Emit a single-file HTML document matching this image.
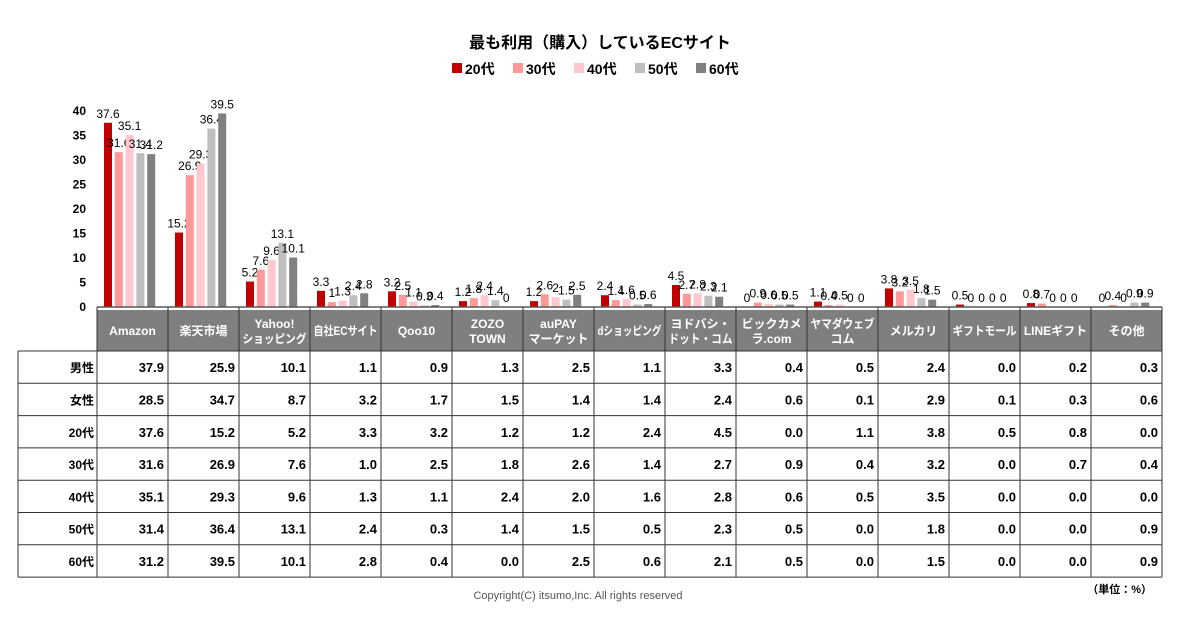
<!DOCTYPE html>
<html><head><meta charset="utf-8">
<style>
body{margin:0;background:#fff;font-family:"Liberation Sans","Noto Sans CJK JP",sans-serif;}
#wrap{position:relative;width:1200px;height:630px;overflow:hidden;}
svg text{font-family:"Liberation Sans","Noto Sans CJK JP",sans-serif;}
</style></head>
<body>
<div id="wrap">
<svg id="svg" width="1200" height="630" xmlns="http://www.w3.org/2000/svg">
<text x="600" y="48" text-anchor="middle" font-size="16" font-weight="bold" fill="#000">最も利用（購入）しているECサイト</text>
<g id="legend"></g>
<g id="yaxis"></g>
<g id="bars"></g>
<g id="table"></g>
<text x="578" y="599" text-anchor="middle" font-size="11" fill="#555">Copyright(C) itsumo,Inc. All rights reserved</text>
<text x="1152" y="593" text-anchor="end" font-size="11" font-weight="bold" fill="#000">（単位：%）</text>
</svg>
</div>
<script>
const categories=["Amazon","楽天市場","Yahoo!|ショッピング","自社ECサイト","Qoo10","ZOZO|TOWN","auPAY|マーケット","dショッピング","ヨドバシ・|ドット・コム","ビックカメ|ラ.com","ヤマダウェブ|コム","メルカリ","ギフトモール","LINEギフト","その他"];
const seriesNames=["20代","30代","40代","50代","60代"];
const seriesColors=["#c00000","#ff9999","#ffc7ce","#bfbfbf","#808080"];
const rowLabels=["男性","女性","20代","30代","40代","50代","60代"];
const rowMale=[37.9,25.9,10.1,1.1,0.9,1.3,2.5,1.1,3.3,0.4,0.5,2.4,0.0,0.2,0.3];
const rowFemale=[28.5,34.7,8.7,3.2,1.7,1.5,1.4,1.4,2.4,0.6,0.1,2.9,0.1,0.3,0.6];
const s20=[37.6,15.2,5.2,3.3,3.2,1.2,1.2,2.4,4.5,0.0,1.1,3.8,0.5,0.8,0.0];
const s30=[31.6,26.9,7.6,1.0,2.5,1.8,2.6,1.4,2.7,0.9,0.4,3.2,0.0,0.7,0.4];
const s40=[35.1,29.3,9.6,1.3,1.1,2.4,2.0,1.6,2.8,0.6,0.5,3.5,0.0,0.0,0.0];
const s50=[31.4,36.4,13.1,2.4,0.3,1.4,1.5,0.5,2.3,0.5,0.0,1.8,0.0,0.0,0.9];
const s60=[31.2,39.5,10.1,2.8,0.4,0.0,2.5,0.6,2.1,0.5,0.0,1.5,0.0,0.0,0.9];
const yTicks=[0,5,10,15,20,25,30,35,40];

const NS="http://www.w3.org/2000/svg";
const series=[s20,s30,s40,s50,s60];
const rows=[rowMale,rowFemale,s20,s30,s40,s50,s60];
const plotLeft=97,colW=71,y0=307,yTop=111,yMax=40;
const y=v=>y0-(v/yMax)*(y0-yTop);
const colX=i=>plotLeft+i*colW;
function mk(tag,attrs,parent,txt){const e=document.createElementNS(NS,tag);for(const k in attrs)e.setAttribute(k,attrs[k]);if(txt!==undefined)e.textContent=txt;parent.appendChild(e);return e;}
const fmt=v=>v===0?"0":String(v);

const lg=document.getElementById('legend');
let lx=452;
seriesNames.forEach((n,i)=>{
  const r=mk('rect',{x:lx,y:63,width:10,height:10,fill:seriesColors[i]},lg);
  
  
  const t=mk('text',{x:lx+13,y:74,'font-size':14,'font-weight':'bold'},lg,n);
  
  
  lx+=61;
});
const ya=document.getElementById('yaxis');
yTicks.forEach(v=>{
  const t=mk('text',{x:86,y:y(v)+4,'text-anchor':'end','font-size':12,'font-weight':'bold'},ya,v);
  
  
});
const bg=document.getElementById('bars');
categories.forEach((c,ci)=>{
  series.forEach((s,si)=>{
    const v=s[ci];
    const bx=colX(ci)+7+si*10.8;
    const r=mk('rect',{x:bx,y:y(v),width:8,height:y0-y(v),fill:seriesColors[si]},bg);
    
    
    const t=mk('text',{x:bx+4,y:y(v)-5,'text-anchor':'middle','font-size':12,fill:'#000'},bg,fmt(v));
    
    
  });
});
const tb=document.getElementById('table');
const hdrTop=310,hdrH=41,rowH=32.3,tLeft=18,tRight=plotLeft+categories.length*colW;
const hr=mk('rect',{x:plotLeft,y:hdrTop,width:tRight-plotLeft,height:hdrH,fill:'#7f7f7f'},tb);


mk('line',{x1:plotLeft,y1:hdrTop-3,x2:tRight,y2:hdrTop-3,stroke:'#595959','stroke-width':1.5},tb);
categories.forEach((c,ci)=>{
  const cx=colX(ci)+colW/2;
  const parts=c.split('|');
  parts.forEach((p,pi)=>{
    const yy=parts.length===1?hdrTop+25:hdrTop+18+pi*15;
    const t=mk('text',{x:cx,y:yy,'text-anchor':'middle','font-size':12,'font-weight':'bold',fill:'#fff'},tb,p);
    
    
    const w=t.getComputedTextLength();
    if(w>64){t.setAttribute('textLength',64);t.setAttribute('lengthAdjust','spacingAndGlyphs');}
  });
});
const tBottom=hdrTop+hdrH+rows.length*rowH;
for(let i=0;i<=categories.length;i++){
  mk('line',{x1:colX(i),y1:hdrTop-3,x2:colX(i),y2:tBottom,stroke:'#333','stroke-width':1},tb);
}
mk('line',{x1:tLeft,y1:hdrTop+hdrH,x2:tLeft,y2:tBottom,stroke:'#333'},tb);
for(let r=0;r<=rows.length;r++){
  const yy=hdrTop+hdrH+r*rowH;
  mk('line',{x1:tLeft,y1:yy,x2:tRight,y2:yy,stroke:'#333'},tb);
}
rows.forEach((row,ri)=>{
  const yy=hdrTop+hdrH+ri*rowH+rowH/2+5;
  const lt=mk('text',{x:plotLeft-3,y:yy,'text-anchor':'end','font-size':12,'font-weight':'bold'},tb,rowLabels[ri]);
  
  
  row.forEach((v,ci)=>{
    const t=mk('text',{x:colX(ci+1)-4,y:yy,'text-anchor':'end','font-size':13,'font-weight':'bold'},tb,v.toFixed(1));
    
    
  });
});
</script>
</body></html>
